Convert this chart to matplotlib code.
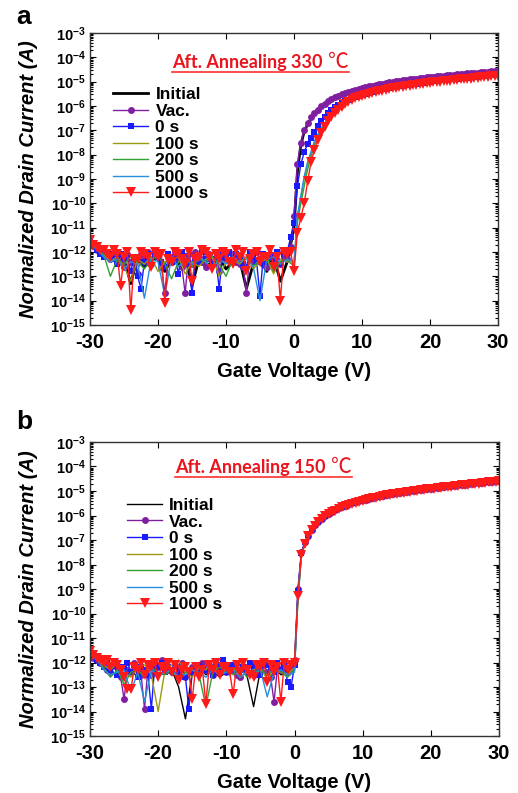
import numpy as np
import matplotlib
matplotlib.use('Agg')
from matplotlib import pyplot as plt
from matplotlib.lines import Line2D
from matplotlib.ticker import FixedLocator, LogLocator, NullFormatter
from matplotlib.transforms import IdentityTransform

plt.rcParams['font.family'] = ['Liberation Sans', 'DejaVu Sans']
plt.rcParams['font.weight'] = 'bold'
plt.rcParams['axes.labelweight'] = 'bold'
plt.rcParams['mathtext.fontset'] = 'custom'
plt.rcParams['mathtext.bf'] = 'Liberation Sans:bold'
plt.rcParams['mathtext.rm'] = 'Liberation Sans:bold'
plt.rcParams['mathtext.default'] = 'bf'
plt.rcParams['axes.unicode_minus'] = False

LABELS = ['Initial', 'Vac.', '0 s', '100 s', '200 s', '500 s', '1000 s']
COLORS = ['black', '#8020a0', '#1a1aff', '#9a9a10', '#33a033', '#2590dd', '#ff1a1a']
MARKERS = [None, 'o', 's', None, None, None, 'v']
MSIZES = [0, 5, 5, 0, 0, 0, 6.5]

# gate sweep (V)
V_OFF = np.arange(-30, 1)              # -30 .. 0 V, 1 V step (line-only series)
V_OFF_FINE = np.arange(-60, 1) * 0.5   # -30 .. 0 V, 0.5 V step (marker series)
V_FINE = np.arange(1, 61) * 0.5        # 0.5 .. 30 V (marker series)
V_COARSE = [0.5, 1, 1.5, 2, 3, 4, 5, 6, 8, 10, 12, 15, 20, 25, 30]  # line-only series

# ---- panel a : 330 C, log10(I) ----
A_OFF_INIT = [-11.6, -11.8, -12.0, -12.2, -12.4, -12.3, -13.3, -12.2, -12.6, -12.4, -12.2, -12.8, -12.3, -12.5, -12.1, -13.4,
              -12.3, -12.6, -12.4, -12.2, -12.7, -12.4, -12.3, -13.5, -12.5, -12.3, -12.8, -12.2, -13.2, -12.4, -11.0]
A_OFF_VAC = [-11.6, -11.75, -11.9, -12.0, -12.1, -12.0, -12.3, -12.1, -12.2, -12.4,
             -12.6, -12.1, -12.4, -12.2, -12.9, -12.1, -12.3, -12.0, -12.5, -12.1,
             -12.2, -12.6, -13.7, -12.2, -12.4, -12.0, -12.3, -12.6, -13.7, -12.1,
             -12.5, -12.0, -12.2, -12.4, -12.6, -12.1, -12.4, -12.0, -12.8, -12.2,
             -12.3, -12.0, -12.2, -12.4, -12.5, -12.6, -13.7, -12.1, -12.4, -12.0,
             -12.3, -12.5, -12.6, -12.1, -12.2, -12.0, -12.5, -12.2, -12.3, -11.8,
             -10.5]
A_OFF_0S = [-11.5, -11.7, -11.9, -12.1, -12.2, -12.0, -12.1, -12.3, -12.5, -12.1,
            -12.3, -12.2, -12.8, -12.2, -13.0, -13.5, -12.4, -12.1, -12.3, -12.0,
            -12.2, -12.4, -12.6, -12.1, -12.4, -12.2, -12.9, -12.0, -12.2, -12.5,
            -13.7, -12.3, -12.4, -12.0, -12.3, -12.2, -12.5, -12.3, -13.5, -12.1,
            -12.2, -12.0, -12.4, -12.1, -12.3, -12.5, -12.6, -12.0, -12.2, -12.4,
            -13.8, -12.1, -12.4, -12.2, -12.3, -12.0, -12.5, -12.1, -12.0, -11.4,
            -10.8]
A_OFF_100S = [-11.6, -11.9, -12.1, -12.4, -12.2, -12.6, -13.2, -12.3, -12.5, -12.2, -12.8, -12.4, -12.3, -12.2, -12.9, -12.4,
              -12.6, -12.3, -12.2, -13.0, -12.4, -12.3, -12.5, -12.2, -12.7, -12.4, -12.3, -12.9, -12.3, -12.4, -12.5]
A_OFF_200S = [-11.6, -11.9, -12.1, -13.0, -12.3, -12.5, -12.2, -12.4, -12.7, -12.3, -12.2, -12.5, -13.1, -12.4, -12.2, -12.6,
              -12.3, -12.4, -12.2, -12.5, -13.0, -12.3, -12.4, -12.2, -12.6, -12.3, -12.2, -12.8, -12.4, -12.3, -12.6]
A_OFF_500S = [-11.6, -11.9, -12.2, -12.4, -12.3, -12.7, -12.4, -12.5, -13.9, -12.3, -12.4, -13.8, -12.2, -12.6, -12.3, -12.5,
              -12.2, -12.4, -12.7, -12.3, -12.5, -12.2, -12.4, -12.3, -12.6, -14.0, -12.3, -12.2, -12.5, -12.3, -12.4]
A_OFF_1000S = [-11.5, -11.7, -11.8, -11.9, -11.9, -12.1, -12.2, -11.9, -12.1, -13.4,
               -12.2, -12.0, -14.4, -12.3, -12.3, -12.0, -12.1, -12.2, -12.6, -12.0,
               -12.2, -12.1, -14.1, -12.3, -12.4, -12.0, -12.1, -12.3, -12.5, -12.0,
               -13.2, -12.3, -12.2, -11.9, -12.0, -12.2, -12.7, -12.1, -12.3, -12.0,
               -12.1, -12.4, -12.5, -11.9, -12.2, -12.0, -12.8, -12.3, -12.1, -12.0,
               -12.4, -12.2, -12.2, -11.9, -12.6, -12.2, -14.0, -12.0, -12.1, -12.0,
               -12.8]

A_ON_INIT = [-8.7, -7.6, -7.05, -6.75, -6.33, -6.05, -5.83, -5.67, -5.44, -5.27, -5.14, -5.0, -4.82, -4.68, -4.57]
A_ON_VAC = [-8.4, -7.5, -7.0, -6.7, -6.47, -6.3, -6.15, -6.02, -5.9, -5.8, -5.72, -5.65, -5.58, -5.52, -5.47, -5.42,
            -5.37, -5.33, -5.29, -5.26, -5.22, -5.19, -5.16, -5.13, -5.1, -5.08, -5.05, -5.03, -5.01, -4.99, -4.97, -4.95,
            -4.93, -4.91, -4.89, -4.87, -4.85, -4.84, -4.82, -4.81, -4.79, -4.78, -4.76, -4.75, -4.73, -4.72, -4.71, -4.7,
            -4.68, -4.67, -4.66, -4.65, -4.64, -4.63, -4.61, -4.6, -4.59, -4.58, -4.57, -4.56]
A_ON_0S = [-9.3, -8.4, -7.9, -7.55, -7.3, -7.05, -6.82, -6.62, -6.45, -6.3, -6.17, -6.06, -5.96, -5.88, -5.81, -5.74,
           -5.68, -5.62, -5.57, -5.53, -5.49, -5.45, -5.41, -5.38, -5.35, -5.32, -5.29, -5.26, -5.23, -5.21, -5.18, -5.16,
           -5.14, -5.12, -5.1, -5.08, -5.06, -5.04, -5.02, -5.0, -4.98, -4.97, -4.95, -4.94, -4.92, -4.91, -4.89, -4.88,
           -4.86, -4.85, -4.83, -4.82, -4.8, -4.79, -4.77, -4.76, -4.74, -4.73, -4.71, -4.7]
A_ON_100S = [-10.6, -9.8, -9.0, -8.4, -7.5, -6.95, -6.55, -6.26, -5.82, -5.56, -5.41, -5.24, -5.03, -4.88, -4.73]
A_ON_200S = [-10.8, -10.0, -9.3, -8.6, -7.6, -7.0, -6.58, -6.28, -5.83, -5.57, -5.42, -5.25, -5.04, -4.89, -4.74]
A_ON_500S = [-10.5, -9.7, -8.9, -8.3, -7.45, -6.9, -6.52, -6.23, -5.8, -5.55, -5.4, -5.23, -5.02, -4.87, -4.72]
A_ON_1000S = [-11.2, -10.6, -10.0, -9.1, -8.3, -7.8, -7.4, -7.1, -6.85, -6.62, -6.45, -6.3, -6.15, -6.03, -5.93, -5.84,
              -5.76, -5.69, -5.63, -5.58, -5.54, -5.5, -5.46, -5.43, -5.4, -5.37, -5.34, -5.31, -5.28, -5.26, -5.23, -5.21,
              -5.19, -5.17, -5.15, -5.13, -5.11, -5.09, -5.07, -5.05, -5.03, -5.02, -5.0, -4.99, -4.97, -4.96, -4.94, -4.93,
              -4.91, -4.9, -4.88, -4.87, -4.85, -4.84, -4.82, -4.81, -4.79, -4.78, -4.76, -4.75]

# ---- panel b : 150 C ----
B_OFF_INIT = [-11.6, -11.8, -12.0, -12.3, -12.2, -12.5, -12.3, -12.6, -12.4, -12.2, -12.5, -12.4, -12.3, -13.0, -14.3, -12.4,
              -12.2, -12.5, -12.3, -12.6, -12.4, -12.3, -12.2, -12.5, -13.8, -12.3, -12.4, -12.2, -12.5, -12.4, -12.3]
B_OFF_VAC = [-11.6, -11.8, -11.9, -12.0, -12.1, -12.3, -12.4, -12.1, -12.2, -12.6,
             -13.5, -12.3, -12.4, -12.0, -12.3, -12.5, -13.9, -12.2, -12.5, -12.0,
             -12.2, -11.9, -12.0, -12.3, -12.4, -12.1, -12.3, -12.0, -12.6, -12.3,
             -12.2, -12.4, -12.4, -12.0, -12.3, -12.1, -12.5, -12.3, -12.2, -12.0,
             -12.4, -12.1, -12.3, -12.5, -12.6, -12.2, -12.2, -12.0, -12.5, -12.2,
             -12.3, -12.1, -12.4, -12.6, -13.6, -12.2, -12.3, -12.0, -12.4, -12.3,
             -11.9]
B_OFF_0S = [-11.5, -11.7, -11.9, -12.0, -12.2, -12.0, -12.3, -12.1, -12.5, -12.2,
            -12.2, -12.0, -12.4, -12.1, -12.6, -12.2, -12.3, -12.5, -13.9, -12.1,
            -12.2, -12.0, -12.4, -12.2, -12.3, -12.0, -12.5, -12.2, -12.6, -13.9,
            -12.4, -12.2, -12.1, -12.3, -12.3, -12.0, -12.5, -12.1, -12.2, -11.9,
            -12.4, -12.2, -12.1, -12.0, -12.3, -12.2, -12.4, -12.0, -12.2, -12.3,
            -12.5, -12.0, -12.1, -12.2, -12.4, -12.0, -12.3, -12.1, -12.8, -13.0,
            -12.1]
B_OFF_100S = [-11.6, -11.9, -12.1, -12.3, -12.0, -12.4, -12.6, -12.2, -12.1, -12.5, -14.0, -12.3, -12.1, -11.9, -12.4, -12.6,
              -12.2, -12.3, -11.9, -12.5, -12.3, -12.2, -12.6, -12.4, -12.3, -12.2, -12.7, -12.3, -12.4, -12.5, -12.2]
B_OFF_200S = [-11.6, -11.9, -12.2, -12.6, -12.3, -12.9, -12.4, -12.3, -12.6, -12.2, -12.4, -12.5, -12.3, -12.7, -12.4, -12.3,
              -12.5, -13.8, -12.4, -12.2, -12.3, -12.5, -12.2, -12.6, -12.4, -12.3, -12.5, -12.3, -12.4, -12.6, -12.3]
B_OFF_500S = [-11.6, -11.9, -12.3, -12.5, -12.4, -12.3, -13.2, -12.4, -13.6, -12.3, -12.5, -12.4, -12.3, -12.6, -12.5, -12.3,
              -12.4, -12.6, -12.3, -12.5, -12.4, -12.3, -12.6, -12.4, -12.5, -12.3, -13.4, -12.4, -12.3, -12.5, -12.4]
B_OFF_1000S = [-11.55, -11.7, -11.8, -11.9, -12.0, -11.9, -12.2, -12.0, -12.1, -12.3,
               -12.6, -13.1, -13.1, -12.2, -12.3, -12.0, -12.5, -12.1, -12.2, -12.0,
               -12.6, -12.2, -12.3, -12.0, -12.4, -12.1, -12.7, -12.3, -12.2, -12.4,
               -13.5, -12.2, -12.6, -12.3, -13.7, -12.1, -12.3, -12.0, -12.5, -12.2,
               -12.2, -12.4, -13.3, -12.1, -12.4, -12.0, -12.3, -12.5, -12.6, -12.1,
               -12.2, -12.0, -12.8, -12.1, -12.4, -12.2, -13.6, -12.0, -12.3, -12.1,
               -12.0]

B_ON_INIT = [-9.2, -7.6, -7.12, -6.83, -6.4, -6.14, -5.94, -5.79, -5.56, -5.39, -5.26, -5.1, -4.91, -4.75, -4.6]
B_ON_VAC = [-9.0, -7.5, -7.1, -6.82, -6.58, -6.4, -6.26, -6.13, -6.02, -5.93, -5.85, -5.78, -5.71, -5.65, -5.6, -5.55,
            -5.5, -5.46, -5.42, -5.38, -5.35, -5.31, -5.28, -5.25, -5.22, -5.19, -5.16, -5.14, -5.11, -5.09, -5.07, -5.05,
            -5.03, -5.01, -4.99, -4.97, -4.95, -4.93, -4.91, -4.9, -4.88, -4.86, -4.84, -4.83, -4.81, -4.8, -4.78, -4.77,
            -4.75, -4.74, -4.72, -4.71, -4.69, -4.68, -4.66, -4.65, -4.63, -4.62, -4.6, -4.59]
B_ON_0S = [-9.1, -7.55, -7.1, -6.8, -6.56, -6.38, -6.24, -6.11, -6.0, -5.91, -5.83, -5.76, -5.69, -5.63, -5.58, -5.53,
           -5.48, -5.44, -5.4, -5.36, -5.33, -5.29, -5.26, -5.23, -5.2, -5.17, -5.14, -5.12, -5.09, -5.07, -5.05, -5.03,
           -5.01, -4.99, -4.97, -4.95, -4.93, -4.91, -4.89, -4.88, -4.86, -4.84, -4.82, -4.81, -4.79, -4.78, -4.76, -4.75,
           -4.73, -4.72, -4.7, -4.69, -4.67, -4.66, -4.64, -4.63, -4.61, -4.6, -4.58, -4.57]
B_ON_100S = [-9.4, -7.65, -7.15, -6.86, -6.43, -6.16, -5.96, -5.81, -5.58, -5.41, -5.28, -5.12, -4.93, -4.77, -4.62]
B_ON_200S = [-9.5, -7.7, -7.18, -6.88, -6.44, -6.17, -5.97, -5.82, -5.58, -5.42, -5.28, -5.12, -4.93, -4.77, -4.62]
B_ON_500S = [-9.3, -7.62, -7.14, -6.85, -6.42, -6.15, -5.95, -5.8, -5.57, -5.4, -5.27, -5.11, -4.92, -4.76, -4.61]
B_ON_1000S = [-9.3, -7.6, -7.15, -6.85, -6.6, -6.42, -6.28, -6.15, -6.04, -5.95, -5.87, -5.8, -5.73, -5.67, -5.62, -5.57,
              -5.52, -5.48, -5.44, -5.4, -5.37, -5.33, -5.3, -5.27, -5.24, -5.21, -5.18, -5.16, -5.13, -5.11, -5.09, -5.07,
              -5.05, -5.03, -5.01, -4.99, -4.97, -4.95, -4.93, -4.92, -4.9, -4.88, -4.86, -4.85, -4.83, -4.82, -4.8, -4.79,
              -4.77, -4.76, -4.74, -4.73, -4.71, -4.7, -4.68, -4.67, -4.65, -4.64, -4.62, -4.61]

A_OFF = [A_OFF_INIT, A_OFF_VAC, A_OFF_0S, A_OFF_100S, A_OFF_200S, A_OFF_500S, A_OFF_1000S]
A_ON = [A_ON_INIT, A_ON_VAC, A_ON_0S, A_ON_100S, A_ON_200S, A_ON_500S, A_ON_1000S]
B_OFF = [B_OFF_INIT, B_OFF_VAC, B_OFF_0S, B_OFF_100S, B_OFF_200S, B_OFF_500S, B_OFF_1000S]
B_ON = [B_ON_INIT, B_ON_VAC, B_ON_0S, B_ON_100S, B_ON_200S, B_ON_500S, B_ON_1000S]

W, H = 518, 793


def draw_panel(ax, offs, ons, init_lw, legend_xy):
    for i in range(len(LABELS)):
        v_off = V_OFF_FINE if len(offs[i]) == len(V_OFF_FINE) else V_OFF
        v_on = V_FINE if len(ons[i]) == len(V_FINE) else V_COARSE
        x = np.concatenate([v_off, v_on])
        y = 10.0 ** np.concatenate([offs[i], ons[i]])
        ax.plot(x, y, color=COLORS[i], lw=init_lw if i == 0 else 1.0,
                marker=MARKERS[i], ms=MSIZES[i], mew=0, label=LABELS[i])

    ax.set_yscale('log')
    ax.set_xlim(-30, 30)
    ax.set_ylim(1e-15, 1e-3)
    ax.set_xticks([-30, -20, -10, 0, 10, 20, 30])
    decades = np.arange(-15, -2)
    ax.yaxis.set_major_locator(FixedLocator(10.0 ** decades))
    ax.set_yticklabels([r'$10^{%d}$' % d for d in decades])
    ax.yaxis.set_minor_locator(LogLocator(base=10, subs=np.arange(2, 10), numticks=50))
    ax.yaxis.set_minor_formatter(NullFormatter())
    ax.tick_params(which='both', direction='in', top=True, right=True, width=0.8)
    ax.tick_params(which='major', length=4)
    ax.tick_params(which='minor', length=2)
    ax.tick_params(axis='x', labelsize=14.5, pad=6)
    ax.tick_params(axis='y', labelsize=10.5, pad=3)
    for lab in ax.get_xticklabels():
        lab.set_fontweight('bold')
    ax.set_xlabel('Gate Voltage (V)', fontsize=14.5, fontweight='bold', labelpad=7)
    ax.set_ylabel('Normalized Drain Current (A)', fontsize=14.5, fontweight='bold', style='italic', labelpad=9)
    for sp in ax.spines.values():
        sp.set_linewidth(1.0)
        sp.set_color('#333333')

    ax.legend(loc='upper left', bbox_to_anchor=legend_xy, frameon=False,
              handlelength=2.05, handletextpad=0.4, labelspacing=0.08, borderpad=0, borderaxespad=0,
              prop={'weight': 'bold', 'size': 12.5})


fig = plt.figure(figsize=(W / 100, H / 100), dpi=100)
ax_a = fig.add_axes([90 / W, 1 - 325 / H, 408 / W, 292 / H])
ax_b = fig.add_axes([90 / W, 1 - 736 / H, 409 / W, 294 / H])

draw_panel(ax_a, A_OFF, A_ON, 2.0, (0.056, 0.815))
draw_panel(ax_b, B_OFF, B_ON, 1.0, (0.09, 0.81))

RED = '#e8141e'
captions = []
for ax, x0, y0, txt in [(ax_a, 0.201, 0.88, 'Aft. Annealing 330 '), (ax_b, 0.208, 0.895, 'Aft. Annealing 150 ')]:
    t = ax.text(x0, y0, txt, transform=ax.transAxes, ha='left', va='baseline',
                color=RED, fontsize=13, fontweight='bold', family='Lato')
    captions.append((ax, t))

fig.text(24 / W, 1 - 17 / H, 'a', fontsize=19, fontweight='bold', ha='center', va='center')
fig.text(24 / W, 1 - 422 / H, 'b', fontsize=19, fontweight='bold', ha='center', va='center')

# degree-Celsius glyph after the caption, then underline the whole caption
fig.canvas.draw()
for ax, t in captions:
    bb = t.get_window_extent()
    x_px, y_px = ax.transAxes.transform(t.get_position())
    deg = fig.text((bb.x1 + 1) / W, y_px / H, '℃', ha='left', va='baseline', color=RED,
                   fontsize=15, family='Noto Sans CJK SC', fontweight='normal')
    fig.canvas.draw()
    bd = deg.get_window_extent()
    fig.add_artist(Line2D([bb.x0, bd.x1], [bb.y0 - 1, bb.y0 - 1], transform=IdentityTransform(),
                          color='#ff3030', lw=1.2))

fig.savefig('out.png', dpi=100)
